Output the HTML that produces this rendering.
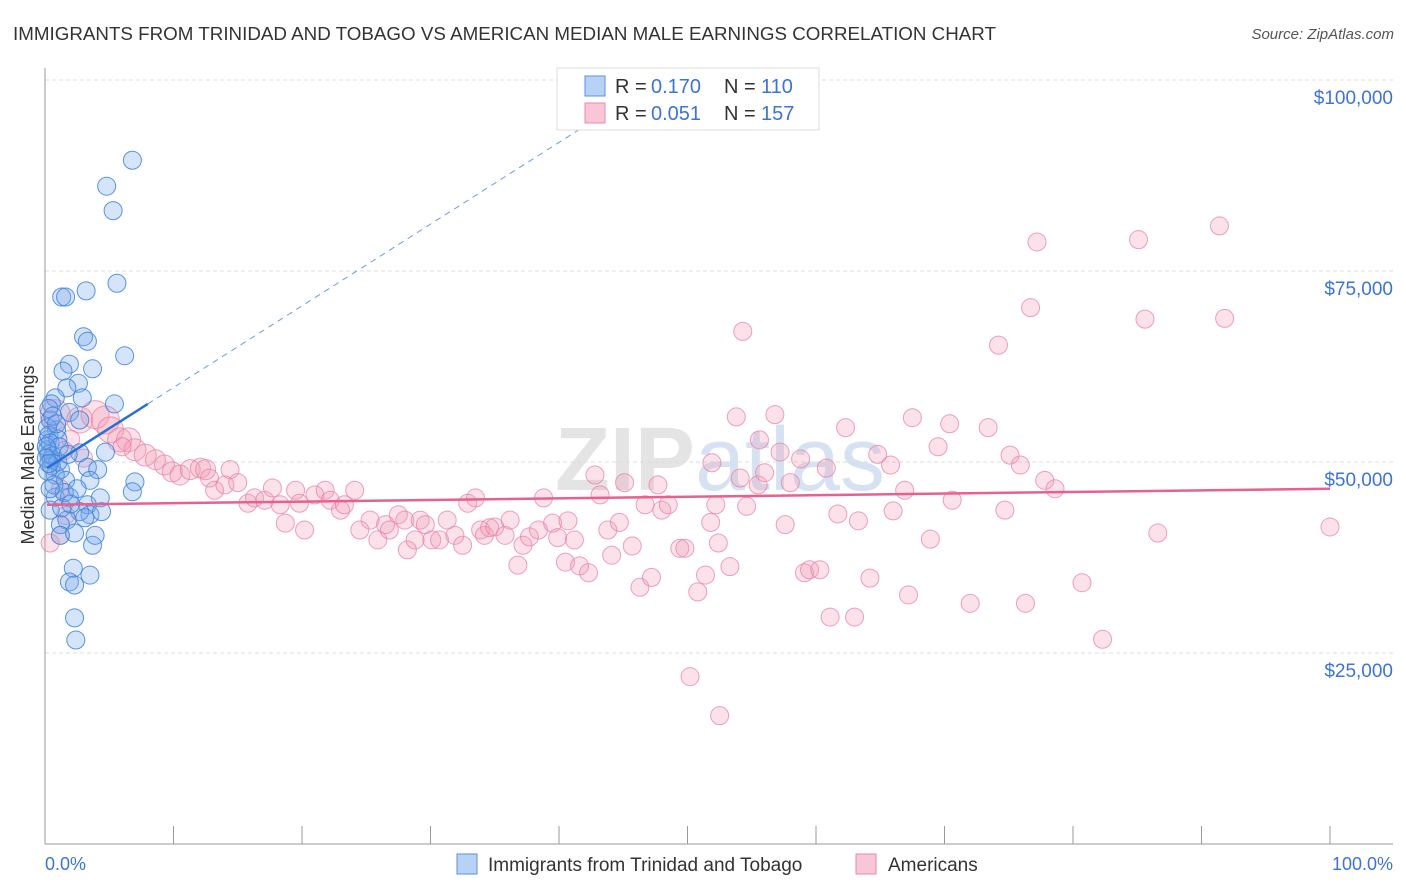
<!DOCTYPE html>
<html><head><meta charset="utf-8"><style>
body{margin:0;background:#fff;font-family:"Liberation Sans",sans-serif;}
svg{display:block}
</style></head><body>
<svg id="chart" width="1406" height="892">
<text x="13" y="40" font-size="18" fill="#333" textLength="983" lengthAdjust="spacingAndGlyphs">IMMIGRANTS FROM TRINIDAD AND TOBAGO VS AMERICAN MEDIAN MALE EARNINGS CORRELATION CHART</text>
<text x="1394" y="39" font-size="15" fill="#555" font-style="italic" text-anchor="end">Source: ZipAtlas.com</text>
<text x="720" y="490" font-size="90" fill="#e4e4e4" text-anchor="middle" font-weight="bold">ZIP<tspan font-weight="normal" fill="#d6e2f2">atlas</tspan></text>
<g id="grid"></g><g id="axes"></g><g id="pts"></g><g id="lines"></g>
<text transform="translate(34,455) rotate(-90)" font-size="18" fill="#333" text-anchor="middle">Median Male Earnings</text>
<text x="45" y="870" font-size="18" fill="#3b74d6">0.0%</text>
<text x="1393" y="870" font-size="18" fill="#3b74d6" text-anchor="end">100.0%</text>
<g>
<rect x="557" y="68" width="262" height="62" fill="#fff" stroke="#ddd"/>
<rect x="585" y="76" width="20" height="20" fill="#b8d2f5" stroke="#5a90dd"/>
<rect x="585" y="103" width="20" height="20" fill="#f8c6d6" stroke="#e88aa8"/>
<text x="615" y="93" font-size="20" fill="#333">R =</text>
<text x="651" y="93" font-size="20" fill="#3b74d6">0.170</text>
<text x="724" y="93" font-size="20" fill="#333">N =</text>
<text x="761" y="93" font-size="20" fill="#3b74d6">110</text>
<text x="615" y="120" font-size="20" fill="#333">R =</text>
<text x="651" y="120" font-size="20" fill="#3b74d6">0.051</text>
<text x="724" y="120" font-size="20" fill="#333">N =</text>
<text x="761" y="120" font-size="20" fill="#3b74d6">157</text>
</g>
<g>
<rect x="457" y="854" width="20" height="20" fill="#b8d2f5" stroke="#5a90dd"/>
<text x="488" y="871" font-size="19" fill="#333">Immigrants from Trinidad and Tobago</text>
<rect x="856" y="854" width="20" height="20" fill="#f8c6d6" stroke="#e88aa8"/>
<text x="888" y="871" font-size="19" fill="#333">Americans</text>
</g>
</svg>
<script>
const yTicks=[25000,50000,75000,100000];
const yTickLabels=["$25,000","$50,000","$75,000","$100,000"];
const blueX=[6.8,4.8,5.3,5.6,1.3,1.6,3.2,6.2,3.0,3.3,1.9,3.7,1.4,2.6,1.7,5.4,2.9,0.8,1.9,0.5,0.4,2.7,0.9,0.2,0.2,0.5,2.7,4.7,1.2,3.3,4.1,0.8,1.6,3.5,7.0,6.8,0.8,1.9,4.3,3.3,0.4,3.5,2.7,4.4,1.7,1.2,1.2,2.3,3.1,3.7,3.9,2.2,1.9,2.3,3.5,2.3,2.4,0.2,0.3,0.4,0.3,0.5,0.6,0.2,1.0,1.0,0.7,1.5,0.4,1.3,2.0,2.5,0.3,0.6,1.1,0.9,1.8,0.1,0.1,0.3];
const blueY=[89.5,86.1,82.9,73.4,71.6,71.6,72.4,63.9,66.4,65.8,62.8,62.2,61.9,60.3,59.7,57.6,58.4,58.4,56.5,57.6,55.5,55.5,54.2,52.9,51.6,50.3,51.2,51.3,49.0,49.3,49.0,48.3,47.6,47.6,47.4,46.1,45.4,45.4,45.3,44.4,43.7,43.1,43.5,43.5,42.4,41.8,40.4,40.7,42.7,39.1,40.4,36.1,34.3,33.9,35.2,29.6,26.7,54.5,53.5,52.5,51.0,49.5,50.8,48.8,53.0,50.0,47.0,46.0,46.5,44.0,44.5,46.5,57.0,56.0,52.0,55.0,51.0,52.0,50.5,49.8];
const pinkX=[0.8,2.7,3.9,4.7,5.1,5.8,6.5,7.0,7.8,8.6,9.3,9.9,10.5,11.3,12.1,12.5,12.8,13.2,14.0,14.4,15.0,15.8,16.3,17.1,17.7,18.3,18.7,19.5,19.8,20.2,21.0,21.8,22.2,23.0,23.3,24.1,24.5,25.3,25.9,26.5,26.8,27.5,28.0,28.2,28.8,29.2,29.6,30.1,30.7,31.3,31.9,32.5,32.9,33.5,33.9,34.2,34.6,35.0,35.8,36.2,36.8,37.2,37.7,38.4,38.8,39.5,39.9,40.5,40.7,41.2,41.6,42.3,42.8,43.2,43.8,44.1,44.7,45.1,45.7,46.3,46.7,47.2,47.7,48.0,48.5,49.4,49.8,50.8,51.4,51.8,51.9,52.2,52.4,50.2,52.5,53.3,53.8,54.1,54.3,54.6,55.5,55.6,56.0,56.8,57.2,57.6,58.0,58.8,59.1,59.5,60.3,60.8,61.1,61.7,62.3,63.0,63.3,64.2,64.8,65.8,66.0,66.9,67.2,67.5,68.9,69.5,70.4,70.6,72.0,73.4,74.2,74.7,75.1,75.9,76.3,76.7,77.2,77.8,78.6,80.7,82.3,85.1,85.6,86.6,91.4,91.8,100.0,0.4,1.2,1.5,2.0,3.0,6.0,1.6,1.2];
const pinkY=[56.2,55.5,56.2,55.5,54.2,52.9,52.9,51.6,50.9,50.3,49.6,48.7,48.3,49.0,49.2,49.0,47.9,46.3,47.0,49.0,47.3,44.6,45.3,45.0,46.6,44.4,42.0,46.3,44.6,41.1,45.7,46.3,45.0,43.7,44.4,46.3,41.1,42.4,39.8,41.8,41.1,43.1,42.4,38.5,39.8,42.4,41.8,39.8,39.8,42.4,40.4,39.1,44.6,45.3,41.1,40.4,41.4,41.5,40.4,42.4,36.5,39.1,40.2,41.1,45.3,42.0,40.1,36.9,42.3,39.8,36.4,35.5,48.3,45.7,41.1,37.8,42.1,47.3,39.0,33.6,44.4,34.9,47.0,43.7,44.4,38.7,38.7,33.0,35.2,42.1,49.9,44.4,39.4,21.9,16.8,36.3,55.9,47.9,67.1,44.2,47.0,52.9,48.6,56.2,51.3,41.8,47.3,50.4,35.5,35.9,35.9,49.2,29.7,43.2,54.5,29.7,42.3,34.8,51.0,49.6,43.6,46.3,32.6,55.8,39.9,52.0,55.0,45.0,31.5,54.5,65.3,43.7,50.9,49.6,31.5,70.2,78.8,47.6,46.5,34.2,26.8,79.1,68.7,40.7,80.9,68.8,41.5,39.4,40.4,51.5,53.0,50.5,52.0,43.0,46.5];
const pinkSize=[15,13,14,14,13,12,12,11,11,10,10,10,10,10,10,10,9,9,9,9,9,9,9,9,9,9,9];
const blueTrend=[[0.15,49.2],[8.0,57.6],[42.4,94.4]];
const pinkTrend=[[0.15,44.4],[100,46.5]];
const NS='http://www.w3.org/2000/svg';
const X=p=>45+p*12.85;
const Y=k=>844-k*7.64;
function mk(tag,attrs,parent){const e=document.createElementNS(NS,tag);for(const k in attrs)e.setAttribute(k,attrs[k]);document.getElementById(parent).appendChild(e);return e;}
yTicks.forEach((t,i)=>{
 const g=mk('line',{x1:45,x2:1393,y1:Y(t/1000),y2:Y(t/1000),stroke:'#ddd','stroke-dasharray':'4,3'},'grid');
 
 
 const l=mk('text',{x:1393,y:Y(t/1000)+24,'font-size':19,fill:'#3b74d6','text-anchor':'end'},'grid');
 l.textContent=yTickLabels[i];
 
 
});
const ax=mk('line',{x1:45,x2:45,y1:68,y2:844,stroke:'#999'},'axes');


const bx=mk('line',{x1:45,x2:1393,y1:844,y2:844,stroke:'#999'},'axes');


for(let i=0;i<=10;i++){const t=mk('line',{x1:X(i*10),x2:X(i*10),y1:826,y2:844,stroke:'#999'},'axes');
 
 }
pinkX.forEach((v,i)=>{const c=mk('circle',{cx:X(v),cy:Y(pinkY[i]),r:pinkSize[i]||9,fill:'rgba(242,150,178,0.28)',stroke:'rgba(232,130,160,0.75)','stroke-width':1},'pts');
 
 });
blueX.forEach((v,i)=>{const c=mk('circle',{cx:X(v),cy:Y(blueY[i]),r:9,fill:'rgba(120,165,235,0.3)',stroke:'rgba(60,130,220,0.85)','stroke-width':1},'pts');
 
 });
const b1=mk('line',{x1:X(blueTrend[0][0]),y1:Y(blueTrend[0][1]),x2:X(blueTrend[1][0]),y2:Y(blueTrend[1][1]),stroke:'#2a6fd6','stroke-width':2.5},'lines');


const b2=mk('line',{x1:X(blueTrend[1][0]),y1:Y(blueTrend[1][1]),x2:X(blueTrend[2][0]),y2:Y(blueTrend[2][1]),stroke:'#6b9be0','stroke-width':1,'stroke-dasharray':'6,5'},'lines');


const p1=mk('line',{x1:X(pinkTrend[0][0]),y1:Y(pinkTrend[0][1]),x2:X(pinkTrend[1][0]),y2:Y(pinkTrend[1][1]),stroke:'#e8608f','stroke-width':2.5},'lines');


</script>
</body></html>
